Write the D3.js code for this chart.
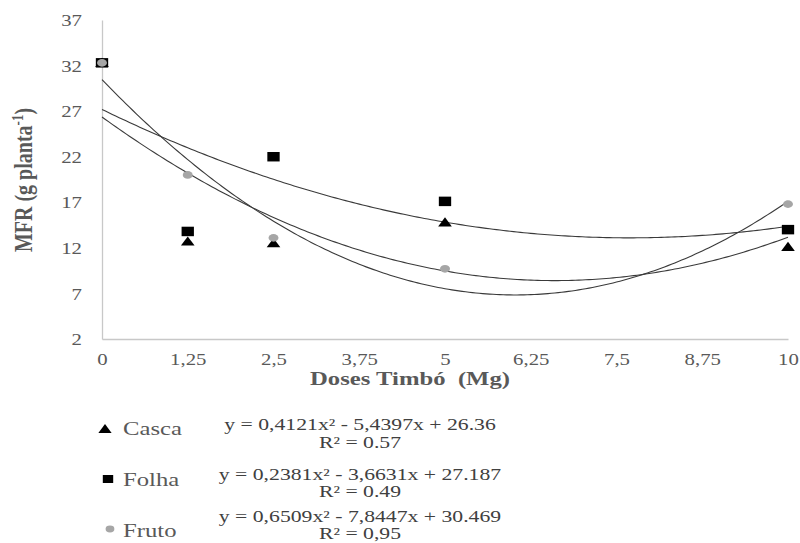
<!DOCTYPE html>
<html><head><meta charset="utf-8">
<script src="https://cdn.jsdelivr.net/npm/d3@7"></script>
<style>body{margin:0;background:#fff}svg{display:block}text{font-family:"Liberation Serif","Times New Roman",serif}</style>
</head><body><svg id="c" width="800" height="543"></svg>
<script>
const doses = [0, 1.25, 2.5, 5, 10];
const casca = [32.3, 12.7, 12.5, 14.8, 12.1];
const folha = [32.3, 13.8, 22.0, 17.1, 14.0];
const fruto = [32.3, 20.0, 13.1, 9.7, 16.8];
const seriesNames = ["Casca", "Folha", "Fruto"];
const coefCasca = [0.4121, -5.4397, 26.36];
const coefFolha = [0.2381, -3.6631, 27.187];
const coefFruto = [0.6509, -7.8447, 30.469];
const eqLabels = ["y = 0,4121x² - 5,4397x + 26.36", "y = 0,2381x² - 3,6631x + 27.187", "y = 0,6509x² - 7,8447x + 30.469"];
const r2Labels = ["R² = 0.57", "R² = 0.49", "R² = 0,95"];
const xTicks = [0, 1.25, 2.5, 3.75, 5, 6.25, 7.5, 8.75, 10];
const xTickLabels = ["0", "1,25", "2,5", "3,75", "5", "6,25", "7,5", "8,75", "10"];
const yTicks = [2, 7, 12, 17, 22, 27, 32, 37];

const SX = 1.3;
const svg = d3.select("#c");
const x = d3.scaleLinear().domain([0, 10]).range([102, 788]);
const y = d3.scaleLinear().domain([2, 37]).range([339, 20]);

// axes
const gx = svg.append("g").attr("transform", "translate(0,339)")
  .call(d3.axisBottom(x).tickValues(xTicks).tickFormat((d, i) => xTickLabels[i]).tickSize(0).tickSizeOuter(0));
gx.select(".domain").attr("stroke", "#c8c8c8").attr("stroke-width", 1.3);
gx.selectAll(".tick text").attr("y", 26).attr("dy", 0).attr("transform", `scale(${SX},1)`)
  .attr("fill", "#595959").style("font-size", "16px").style("font-family", "Liberation Serif");

const gy = svg.append("g").attr("transform", "translate(102,0)")
  .call(d3.axisLeft(y).tickValues(yTicks).tickFormat(d3.format("d")).tickSize(0).tickSizeOuter(0));
gy.select(".domain").attr("stroke", "#c8c8c8").attr("stroke-width", 1.3);
gy.selectAll(".tick text").attr("x", -20 / SX).attr("dy", "0.35em").attr("transform", `scale(${SX},1)`)
  .attr("fill", "#595959").style("font-size", "16px").style("font-family", "Liberation Serif");

// axis titles
svg.append("text").attr("transform", `translate(410,385) scale(${SX},1)`).attr("text-anchor", "middle")
  .attr("fill", "#595959").style("font-size", "19px").style("font-weight", "bold").style("white-space", "pre")
  .text("Doses Timbó  (Mg)");
const yt = svg.append("text").attr("transform", `translate(32,180) rotate(-90) scale(1,${SX})`).attr("text-anchor", "middle")
  .attr("fill", "#595959").style("font-size", "20px").style("font-weight", "bold");
yt.append("tspan").text("MFR (g planta");
yt.append("tspan").attr("dy", -7).style("font-size", "13px").text("-1");
yt.append("tspan").attr("dy", 7).text(")");

// trend lines
const coefs = [coefCasca, coefFolha, coefFruto];
const line = d3.line().x(d => x(d[0])).y(d => y(d[1])).curve(d3.curveLinear);
coefs.forEach(c => {
  const pts = d3.range(0, 10.0001, 0.05).map(t => [t, c[0] * t * t + c[1] * t + c[2]]);
  svg.append("path").attr("d", line(pts)).attr("fill", "none").attr("stroke", "#3a3a3a").attr("stroke-width", 1.1);
});

// markers
const triangle = d3.symbol().type(d3.symbolTriangle).size(48)();
const square = d3.symbol().type(d3.symbolSquare).size(90)();
const circle = d3.symbol().type(d3.symbolCircle).size(46)();
const data = [casca, folha, fruto];
const shapes = [triangle, square, circle];
const fills = ["#000", "#000", "#a6a6a6"];
data.forEach((vals, si) => {
  svg.append("g").selectAll("path").data(doses.map((d, i) => [d, vals[i]])).join("path")
    .attr("d", shapes[si]).attr("fill", fills[si])
    .attr("transform", d => `translate(${x(d[0])},${y(d[1]) + (si === 0 ? 1 : 0)}) scale(${SX},1)`);
});

// legend
const legMarkers = [[105, 430], [108, 479], [110, 529]];
const legBase = [435, 486, 537];
const eqBase = [430, 480, 522];
const r2Base = [448, 497, 539];
const legShapes = [
  d3.symbol().type(d3.symbolTriangle).size(45)(),
  d3.symbol().type(d3.symbolSquare).size(64)(),
  d3.symbol().type(d3.symbolCircle).size(36)()
];
seriesNames.forEach((n, i) => {
  svg.append("path").attr("d", legShapes[i]).attr("fill", fills[i])
    .attr("transform", `translate(${legMarkers[i][0]},${legMarkers[i][1]}) scale(${SX},1)`);
  svg.append("text").attr("transform", `translate(123,${legBase[i]}) scale(${SX},1)`)
    .attr("fill", "#595959").style("font-size", "19px").text(n);
  svg.append("text").attr("transform", `translate(360,${eqBase[i]}) scale(${SX},1)`).attr("text-anchor", "middle")
    .attr("fill", "#404040").style("font-size", "16.7px").text(eqLabels[i]);
  svg.append("text").attr("transform", `translate(360,${r2Base[i]}) scale(${SX},1)`).attr("text-anchor", "middle")
    .attr("fill", "#404040").style("font-size", "16.7px").text(r2Labels[i]);
});
</script></body></html>
